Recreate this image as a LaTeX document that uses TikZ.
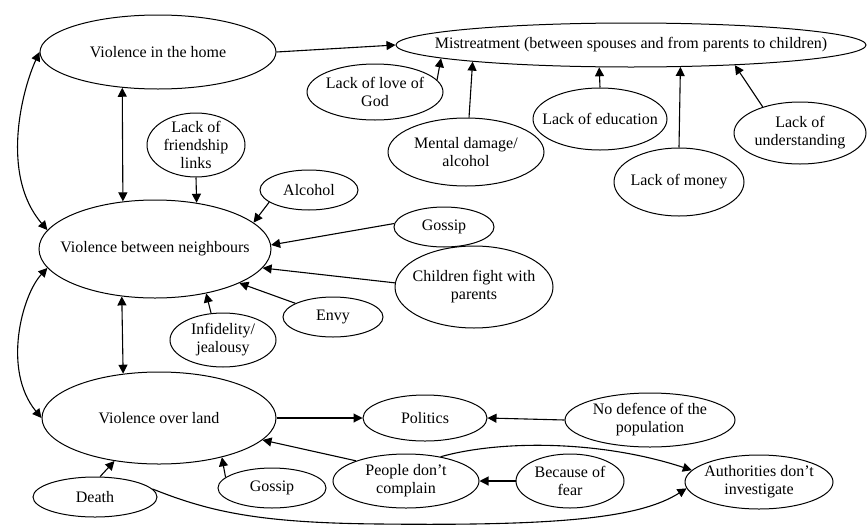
\documentclass[tikz,border=0pt]{standalone}
\usepackage{fontspec}
\setmainfont{Liberation Serif}
\usetikzlibrary{shapes.geometric,arrows.meta}
\begin{document}
\begin{tikzpicture}[x=1pt,y=-1pt,
  el/.style 2 args={draw, ellipse, line width=1pt, inner sep=0pt, minimum width=#1, minimum height=#2},
  every label/.style={font=\fontsize{16}{18}\selectfont, align=center, inner sep=0pt},
  conn/.style={line width=1.1pt, -{Triangle[length=9pt,width=9pt]}},
  bi/.style={line width=1.1pt, {Triangle[length=9pt,width=9pt]}-{Triangle[length=9pt,width=9pt]}}]
\useasboundingbox (0,0) rectangle (867,525);

% nodes
\node[el={236pt}{74pt}, label={center:Violence in the home}] (home) at (158,52) {};
\node[el={470pt}{44pt}, label={center:Mistreatment (between spouses and from parents to children)}] (mist) at (631,45) {};
\node[el={136pt}{56pt}, label={center:{Lack of love of\\God}}] (love) at (375,92) {};
\node[el={156pt}{68pt}, label={center:{Mental damage/\\alcohol}}] (mental) at (466,152) {};
\node[el={134pt}{62pt}, label={center:Lack of education}] (edu) at (600,119) {};
\node[el={130pt}{68pt}, label={center:Lack of money}] (money) at (679,182) {};
\node[el={132pt}{62pt}, label={center:{Lack of\\understanding}}] (under) at (800,133) {};
\node[el={98pt}{64pt}, label={center:{Lack of\\friendship\\links}}] (friend) at (196,145) {};
\node[el={98pt}{40pt}, label={center:Alcohol}] (alc) at (309,190) {};
\node[el={232pt}{98pt}, label={center:Violence between neighbours}] (neigh) at (155,249) {};
\node[el={100pt}{40pt}, label={center:Gossip}] (gosa) at (444,227) {};
\node[el={158pt}{82pt}, label={center:{Children fight with\\parents}}] (child) at (474,287) {};
\node[el={100pt}{40pt}, label={center:Envy}] (envy) at (333,317) {};
\node[el={106pt}{54pt}, label={center:{Infidelity/\\jealousy}}] (infid) at (223,340) {};
\node[el={234pt}{92pt}, label={center:Violence over land}] (land) at (159,418) {};
\node[el={124pt}{46pt}, label={center:Politics}] (pol) at (425,418) {};
\node[el={170pt}{54pt}, label={center:{No defence of the\\population}}] (nodef) at (650,420) {};
\node[el={146pt}{54pt}, label={center:{People don’t\\complain}}] (people) at (406,481) {};
\node[el={108pt}{54pt}, label={center:{Because of\\fear}}] (fear) at (570,481) {};
\node[el={148pt}{54pt}, label={center:{Authorities don’t\\investigate}}] (auth) at (759,482) {};
\node[el={108pt}{40pt}, label={center:Gossip}] (gosb) at (272,488) {};
\node[el={124pt}{40pt}, label={center:Death}] (death) at (95,497) {};

% connectors to mistreatment
\draw[conn] (home.east) -- (mist.west);
\draw[conn] (love.11) -- (mist.184);
\draw[conn] (mental.85) -- (mist.186);
\draw[conn] (edu.north) -- (mist.215);
\draw[conn] (money.north) -- (mist.-24);
\draw[conn] (under.145) -- (mist.-11);

% neighbours
\draw[bi] (home.225) -- (neigh.124);
\draw[conn] (friend.south) -- (neigh.48);
\draw[conn] (alc.197) -- (neigh.15.6);
\draw[conn] (gosa.176) -- (neigh.2);
\draw[conn] (child.177) -- (neigh.-10);
\draw[conn] (envy.160.7) -- (neigh.-22.9);
\draw[conn] (infid.114) -- (neigh.-41.3);
\draw[bi] (neigh.235.8) -- (land.129.4);

% left curves
\draw[bi] (home.west) .. controls (22,90) and (0,175) .. (neigh.170);
\draw[bi] (neigh.190) .. controls (22,295) and (2,370) .. (land.west);

% land
\draw[conn] (land.east) -- (pol.west);
\draw[conn] (nodef.west) -- (pol.east);
\draw[conn] (people.158.4) -- (land.-12.6);
\draw[conn] (gosb.167.5) -- (land.-32.6);
\draw[conn] (death.76) -- (land.224.4);
\draw[conn] (fear.west) -- (people.east);

% long curves to authorities
\draw[conn] (people.35) .. controls (500,440) and (600,440) .. (auth.170);
\draw[conn] (death.8) .. controls (210,512) and (260,523) .. (380,524)
  .. controls (560,526) and (640,518) .. (auth.185);
\end{tikzpicture}
\end{document}
